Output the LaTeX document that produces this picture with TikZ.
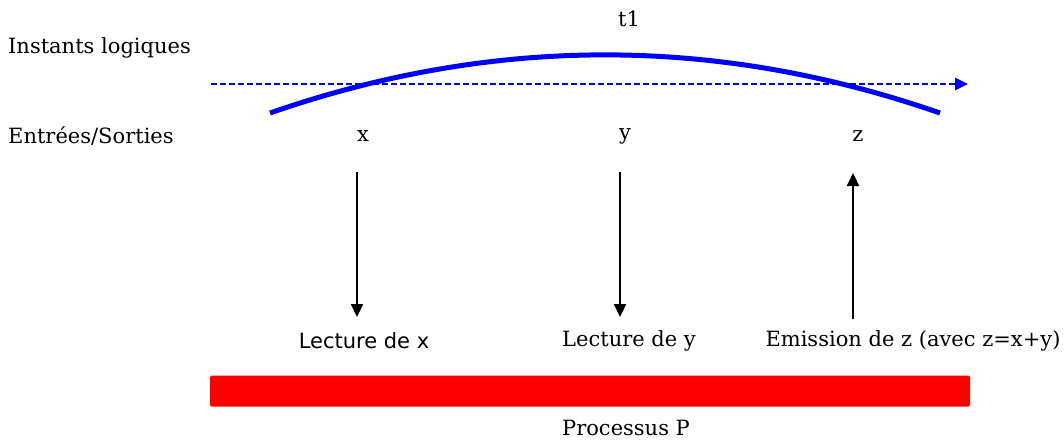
\documentclass[tikz,border=0pt]{standalone}
\usepackage{fontspec}
\setmainfont{DejaVu Serif}
\setsansfont{DejaVu Sans}
\usetikzlibrary{arrows.meta}
\begin{document}
\begin{tikzpicture}[x=1pt,y=-1pt,
  lbl/.style={font=\fontsize{21}{24}\selectfont, inner sep=0pt},
  io/.style={-{Triangle[length=13pt,width=12pt]}, line width=2.2pt},
]
\useasboundingbox (0,0) rectangle (1064,440);
\node[lbl] (t1) at (629,19) {t1};
\node[lbl, anchor=west] (il) at (8,48) {Instants logiques};
\node[lbl, anchor=west] (es) at (8,136) {Entrées/Sorties};
% arc
\coordinate (a1) at (270,113);
\coordinate (a2) at (940,113);
\draw[blue, line width=5pt] (a1) .. controls (493,35.5) and (717,35.5) .. (a2);
% dashed timeline
\coordinate (d1) at (211,84);
\coordinate (d2) at (968,84);
\draw[blue, line width=2.6pt, dash pattern=on 5.5pt off 3.5pt, -{Triangle[length=13pt,width=12pt]}] (d1) -- (d2);
% io
\node[lbl] (x) at (363,136) {x};
\node[lbl] (y) at (625,136) {y};
\node[lbl] (z) at (858,136) {z};
\node[lbl] (lx) at (364,341) {\sffamily Lecture de x};
\node[lbl] (ly) at (629,341) {Lecture de y};
\node[lbl] (ez) at (913,341) {Emission de z (avec z=x+y)};
\coordinate (x1) at (357,172); \coordinate (x2) at (357,317);
\coordinate (y1) at (620,172); \coordinate (y2) at (620,317);
\coordinate (z1) at (853,319); \coordinate (z2) at (853,173);
\draw[io] (x1) -- (x2);
\draw[io] (y1) -- (y2);
\draw[io] (z1) -- (z2);
% process bar
\node[fill=red, draw=none, rounded corners=1.5pt, minimum width=760pt, minimum height=31pt, inner sep=0pt] (bar) at (590,391) {};
\node[lbl] (pp) at (626,428) {Processus P};
\end{tikzpicture}
\end{document}
